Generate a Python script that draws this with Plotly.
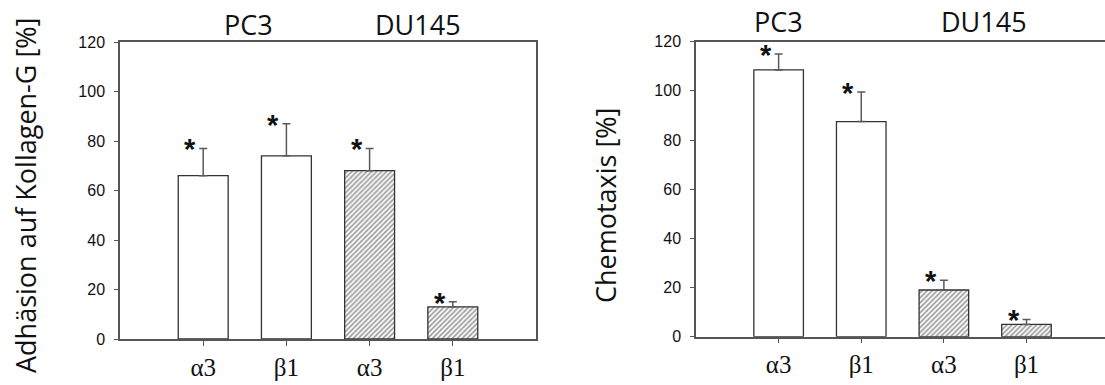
import plotly.graph_objects as go

# ---- data ----
tick_labels = ["α3", "β1", "α3", "β1"]
groups = ["PC3", "DU145"]

adhesion_values = [66, 74, 68, 13]
adhesion_err_top = [77, 87, 77, 15]

chemotaxis_values = [108.5, 87.5, 19, 5]
chemotaxis_err_top = [115, 99.5, 23, 7]

hatched = [False, False, True, True]

W, H = 1105, 385
AX_COL = "#555555"
EDGE_COL = "#333333"

fig = go.Figure()


def add_panel(values, err_top, xa, ya):
    xs = list(range(len(values)))
    fig.add_trace(go.Bar(
        x=xs, y=values, width=0.6,
        xaxis=xa, yaxis=ya,
        marker=dict(
            color="white",
            line=dict(color=EDGE_COL, width=1.3),
            pattern=dict(
                shape=["/" if h else "" for h in hatched],
                fgcolor="#2a2a2a", bgcolor="white",
                size=3.5, solidity=0.45,
            ),
        ),
        error_y=dict(
            type="data", symmetric=False,
            array=[e - v for e, v in zip(err_top, values)],
            arrayminus=[0] * len(values),
            color="#5a5a5a", thickness=1.5, width=4,
        ),
        showlegend=False,
    ))
    for i, e in enumerate(err_top):
        fig.add_annotation(
            x=i, y=e, xref=xa, yref=ya, text="<b>*</b>", showarrow=False,
            font=dict(family="Liberation Sans", size=29, color="#111"),
            xshift=-13, yshift=-1, yanchor="middle", xanchor="center",
        )


add_panel(adhesion_values, adhesion_err_top, "x", "y")
add_panel(chemotaxis_values, chemotaxis_err_top, "x2", "y2")

tickfont_x = dict(family="Liberation Serif", size=25, color="#111")
tickfont_y = dict(family="Liberation Sans", size=16, color="#111")

common_x = dict(
    tickmode="array", tickvals=[0, 1, 2, 3], ticktext=tick_labels,
    showline=True, linecolor=AX_COL, linewidth=1.5,
    ticks="outside", ticklen=5, tickwidth=1.3, tickcolor=AX_COL,
    tickfont=tickfont_x, showgrid=False, zeroline=False,
    fixedrange=True, automargin=False,
)
common_y = dict(
    range=[0, 120], tickvals=[0, 20, 40, 60, 80, 100, 120],
    showline=True, linecolor=AX_COL, linewidth=1.5,
    ticks="outside", ticklen=4, tickwidth=1.3, tickcolor=AX_COL,
    tickfont=tickfont_y, showgrid=False, zeroline=False,
    ticklabelstandoff=6, fixedrange=True, automargin=False,
)

fig.update_layout(
    width=W, height=H,
    margin=dict(l=0, r=0, t=0, b=0, autoexpand=False),
    paper_bgcolor="white", plot_bgcolor="white",
    xaxis=dict(domain=[120 / W, 536 / W], range=[-1, 4], mirror=True,
               anchor="y", **common_x),
    yaxis=dict(domain=[1 - 339 / H, 1 - 42 / H], mirror=True,
               anchor="x", **common_y),
    xaxis2=dict(domain=[696 / W, 1.0], range=[-1, 3.95], mirror=True,
                anchor="y2", **common_x),
    yaxis2=dict(domain=[1 - 336.7 / H, 1 - 41.7 / H], mirror=False,
                anchor="x2", **common_y),
    bargap=0.4,
)

title_font = dict(family="Open Sans", size=27, color="#111")
fig.add_annotation(x=26 / W, y=1 - 196 / H, xref="paper", yref="paper",
                   text="Adhäsion auf Kollagen-G [%]", textangle=-90,
                   showarrow=False, font=title_font,
                   xanchor="center", yanchor="middle")
fig.add_annotation(x=606 / W, y=1 - 206 / H, xref="paper", yref="paper",
                   text="Chemotaxis [%]", textangle=-90,
                   showarrow=False, font=title_font,
                   xanchor="center", yanchor="middle")

head_font = dict(family="Open Sans", size=27, color="#111")
for xa, xpos, ypx in [("x", [0.54, 2.58], 24), ("x2", [0.0, 2.48], 21)]:
    for g, xp in zip(groups, xpos):
        fig.add_annotation(x=xp, y=1 - ypx / H, xref=xa, yref="paper",
                           text=g, showarrow=False, font=head_font,
                           xanchor="center", yanchor="middle")

fig.write_html("out.html")
